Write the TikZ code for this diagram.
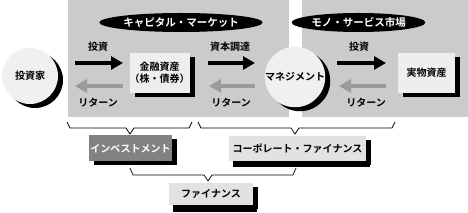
\documentclass[tikz,border=0pt]{standalone}
\usepackage{fontspec}
\setmainfont{Noto Sans CJK JP Bold}
\usetikzlibrary{shapes.geometric,shadows,arrows.meta}
\definecolor{panel}{HTML}{CBCBCB}
\definecolor{boxlight}{HTML}{EEEEEE}
\definecolor{boxlow}{HTML}{E2E2E2}
\definecolor{boxdark}{HTML}{828282}
\definecolor{retgray}{HTML}{9A9A9A}
\definecolor{circfill}{HTML}{F0F0F0}
\tikzset{
  jtxt/.style={font=\fontsize{10}{11.5}\selectfont, inner sep=0pt},
  titleell/.style={ellipse, fill=black, text=white, inner sep=0pt, minimum height=19pt, font=\fontsize{10.5}{12}\selectfont},
  shbox/.style={rectangle, inner sep=0pt, font=\fontsize{10}{12}\selectfont, align=center,
    drop shadow={shadow xshift=5pt, shadow yshift=-4pt, fill=black, opacity=1}},
  shcirc/.style={circle, fill=circfill, inner sep=0pt, minimum size=56pt, font=\fontsize{10}{11.5}\selectfont,
    drop shadow={shadow xshift=5pt, shadow yshift=-4pt, fill=black, opacity=1}},
  invarrow/.style={line width=4pt, -{Triangle[length=12pt,width=13pt]}, black},
  retarrow/.style={line width=4pt, -{Triangle[length=12pt,width=13pt]}, retgray},
  bracket/.style={line width=0.7pt, black},
}
\begin{document}
\begin{tikzpicture}[x=1pt,y=-1pt]
\useasboundingbox (0,0) rectangle (468,213);
% panels
\fill[panel] (68,0) rectangle (289,117);
\fill[panel] (302,0) rectangle (468,117);
% titles
\node[titleell, minimum width=150pt] (cm) at (181,22.5) {キャピタル・マーケット};
\node[titleell, minimum width=97pt] (ms) at (358.5,22.5) {モノ・サービス市場};
% circles
\node[shcirc] (inv) at (30,76) {投資家};
\node[shcirc, minimum size=57pt] (mgmt) at (295,77) {マネジメント};
% boxes
\node[shbox, fill=boxlight, minimum width=51pt, minimum height=40pt] (fin) at (159.5,73) {金融資産\\（株・債券）};
\node[shbox, fill=boxlight, minimum width=57pt, minimum height=40pt] (real) at (426.5,73) {実物資産};
% arrows
\coordinate (a1s) at (75,63); \coordinate (a1e) at (123,63);
\coordinate (r1s) at (123,86); \coordinate (r1e) at (75,86);
\coordinate (a2s) at (208,63); \coordinate (a2e) at (255,63);
\coordinate (r2s) at (255,86); \coordinate (r2e) at (209,86);
\coordinate (a3s) at (337,63); \coordinate (a3e) at (386,63);
\coordinate (r3s) at (386,86); \coordinate (r3e) at (339,86);
\draw[invarrow] (a1s) -- (a1e);
\draw[retarrow] (r1s) -- (r1e);
\draw[invarrow] (a2s) -- (a2e);
\draw[retarrow] (r2s) -- (r2e);
\draw[invarrow] (a3s) -- (a3e);
\draw[retarrow] (r3s) -- (r3e);
% labels
\node[jtxt] (l1) at (98,47) {投資};
\node[jtxt] (l2) at (98,103) {リターン};
\node[jtxt] (l3) at (230,47) {資本調達};
\node[jtxt] (l4) at (231,103) {リターン};
\node[jtxt] (l5) at (359,47) {投資};
\node[jtxt] (l6) at (366,103) {リターン};
% brackets
\draw[bracket] (67,122) -- (70,128) -- (126,128) -- (130,134) -- (134,128) -- (189,128) -- (192,122);
\draw[bracket] (198,122) -- (201,128) -- (291,128) -- (295,134) -- (299,128) -- (392,128) -- (395,122);
% lower boxes
\node[shbox, fill=boxdark, text=white, minimum width=83pt, minimum height=26pt] (invest) at (130.5,148.5) {インベストメント};
\node[shbox, fill=boxlow, minimum width=137pt, minimum height=25pt, drop shadow={shadow xshift=4pt, shadow yshift=-6pt, fill=black, opacity=1}] (corp) at (297.5,148.5) {コーポレート・ファイナンス};
\draw[bracket] (130,168) -- (133,175) -- (204,175) -- (208,181) -- (212,175) -- (293,175) -- (296,168);
\node[shbox, fill=boxlow, minimum width=84pt, minimum height=22pt, drop shadow={shadow xshift=4pt, shadow yshift=-7pt, fill=black, opacity=1}] (finance) at (211,194) {ファイナンス};
\end{tikzpicture}
\end{document}
